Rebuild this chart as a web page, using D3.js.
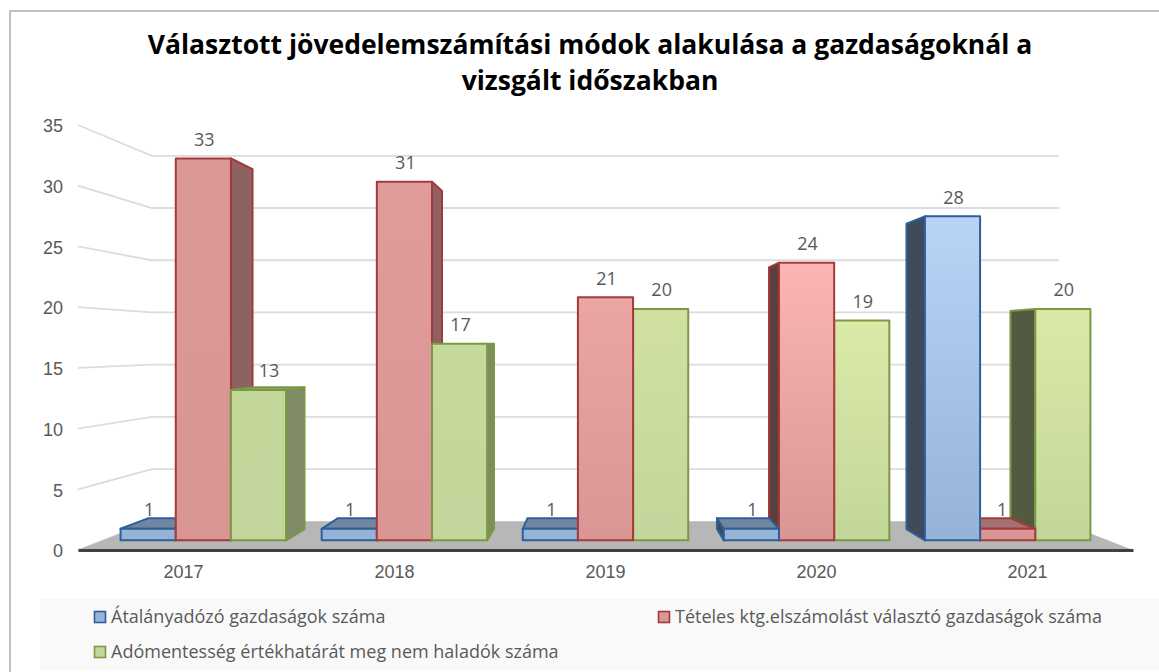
<!DOCTYPE html>
<html>
<head>
<meta charset="UTF-8">
<title>Választott jövedelemszámítási módok</title>
<script src="https://cdnjs.cloudflare.com/ajax/libs/d3/7.8.5/d3.min.js"></script>
<style>
html, body { margin: 0; padding: 0; background: #fff; }
svg { display: block; font-family: "Open Sans", "Noto Sans", sans-serif; }
.tick text { fill: #595959; font-size: 18px; }
.label { fill: #595959; font-size: 18px; text-anchor: middle; }
.legend-text { fill: #595959; font-size: 18px; }
.title { fill: #000; font-size: 26.5px; font-weight: 700; text-anchor: middle; }
.grid { stroke: #dcdcdc; stroke-width: 1.8; fill: none; }
</style>
</head>
<body>
<script>
// chart data
var years = ["2017", "2018", "2019", "2020", "2021"];
var atalanyValues = [1, 1, 1, 1, 28];
var tetelesValues = [33, 31, 21, 24, 1];
var adomentesValues = [13, 17, 20, 19, 20];
var seriesNames = [
  "Átalányadózó gazdaságok száma",
  "Tételes ktg.elszámolást választó gazdaságok száma",
  "Adómentesség értékhatárát meg nem haladók száma"
];
var yTicks = [0, 5, 10, 15, 20, 25, 30, 35];
var titleLines = [
  "Választott jövedelemszámítási módok alakulása a gazdaságoknál a",
  "vizsgált időszakban"
];

// look of the series
var baseColors = ["#95b3d7", "#d99694", "#c3d69b"];
var brightColors = ["#bcd9fc", "#fcb5b4", "#dceba9"];
var strokeColors = ["#2f5f98", "#a23b3a", "#7a9a41"];
var yearShine = [0.05, 0.2, 0.5, 1, 0.9];
// two labels were moved by hand in the original: series-year -> px
var labelShift = { "2-0": 9.5, "1-4": -6.5 };

var width = 1159, height = 672;

var svg = d3.select("body").append("svg")
    .attr("width", width)
    .attr("height", height);
var defs = svg.append("defs");

// scales are for the front plane of the floor, project() pushes things back
var x = d3.scaleBand().domain(years).range([78, 1133]).paddingInner(0.177).paddingOuter(0.0885);
var xAxisScale = d3.scaleBand().domain(years).range([78, 1133]);
var xGroup = d3.scaleBand().domain([0, 1, 2]).range([0, x.bandwidth()]);
var y = d3.scaleLinear().domain([0, 35]).range([550, 125]);

// vanishing point and depth factors
var vx = 605.5, vy = 345;
var backWall = 0.86, barFront = 0.953, barBack = 0.898;

function project(px, py, s) {
  return [vx + s * (px - vx), vy + s * (py - vy)];
}
function poly(points) {
  return points.map(function(p) { return p[0] + "," + p[1]; }).join(" ");
}

// frame
svg.append("path")
    .attr("d", "M10," + height + "V11H" + width)
    .attr("fill", "none")
    .attr("stroke", "#bfbfbf")
    .attr("stroke-width", 2);

// title
svg.selectAll(".title")
    .data(titleLines)
  .enter().append("text")
    .attr("class", "title")
    .attr("x", 590)
    .attr("y", function(d, i) { return 54 + i * 36; })
    .text(function(d) { return d; });

// gridlines: side wall + back wall
var grid = svg.append("g");
yTicks.forEach(function(t) {
  var a = [78, y(t)];
  var b = project(78, y(t), backWall);
  var c = project(1133, y(t), backWall);
  grid.append("polyline")
      .attr("class", "grid")
      .attr("points", poly(t === 0 ? [a, b] : [a, b, c]));
});

// floor
svg.append("polygon")
    .attr("fill", "#b7b7b7")
    .attr("points", poly([
      [78, y(0)],
      project(78, y(0), backWall),
      project(1133, y(0), backWall),
      [1133, y(0)]
    ]));

// flatten to one list of bars
var allValues = [atalanyValues, tetelesValues, adomentesValues];
var bars = [];
allValues.forEach(function(vals, si) {
  vals.forEach(function(v, yi) {
    var left = x(years[yi]) + xGroup(si);
    bars.push({
      series: si,
      year: yi,
      value: v,
      left: left,
      right: left + xGroup.bandwidth()
    });
  });
});

// outermost bars first, the ones near the vanishing point go on top
bars.sort(function(a, b) {
  return Math.abs((b.left + b.right) / 2 - vx) - Math.abs((a.left + a.right) / 2 - vx);
});

var barLayer = svg.append("g");
bars.forEach(function(d, i) {
  var g = barLayer.append("g")
      .attr("stroke", strokeColors[d.series])
      .attr("stroke-width", 2)
      .attr("stroke-linejoin", "round");
  var base = d3.rgb(baseColors[d.series]);
  var fl = project(d.left, y(0), barFront), fr = project(d.right, y(0), barFront);
  var tl = project(d.left, y(d.value), barFront), tr = project(d.right, y(d.value), barFront);
  var bl = project(d.left, y(0), barBack), br = project(d.right, y(0), barBack);
  var ul = project(d.left, y(d.value), barBack), ur = project(d.right, y(d.value), barBack);

  function shade(k) {
    return d3.rgb(base.r * k, base.g * k, base.b * k);
  }

  // side face, only the one turned to the viewer
  if (fr[0] < vx) {
    g.append("polygon").attr("points", poly([fr, tr, ur, br])).attr("fill", shade(0.65));
  } else if (fl[0] > vx) {
    g.append("polygon").attr("points", poly([fl, tl, ul, bl])).attr("fill", shade(0.42));
  }
  // top face shows only below eye level
  if (tl[1] > vy) {
    g.append("polygon").attr("points", poly([tl, tr, ur, ul])).attr("fill", shade(0.75));
  }

  var shine = yearShine[d.year] * Math.min(1, d.value / 20);
  var gradId = "grad" + i;
  var grad = defs.append("linearGradient")
      .attr("id", gradId)
      .attr("x1", 0).attr("y1", 0).attr("x2", 0).attr("y2", 1);
  grad.append("stop").attr("offset", 0)
      .attr("stop-color", d3.interpolateRgb(baseColors[d.series], brightColors[d.series])(shine));
  grad.append("stop").attr("offset", 1)
      .attr("stop-color", baseColors[d.series]);

  g.append("rect")
      .attr("x", tl[0])
      .attr("y", tl[1])
      .attr("width", tr[0] - tl[0])
      .attr("height", fl[1] - tl[1])
      .attr("fill", "url(#" + gradId + ")");
});

// value labels
svg.append("g").selectAll("text")
    .data(bars)
  .enter().append("text")
    .attr("class", "label")
    .attr("x", function(d) {
      var shift = labelShift[d.series + "-" + d.year] || 0;
      return project((d.left + d.right) / 2, 0, barFront)[0] + shift + 1;
    })
    .attr("y", function(d) { return project(0, y(d.value), barFront)[1] - 12.5; })
    .text(function(d) { return d.value; });

// axes
var yAxis = d3.axisLeft(y).tickValues(yTicks).tickSize(0).tickPadding(15);
svg.append("g")
    .attr("transform", "translate(78,1)")
    .call(yAxis)
    .call(function(g) { g.select(".domain").remove(); })
    .selectAll("text").style("font-family", "inherit");

var xAxis = d3.axisBottom(xAxisScale).tickSize(0).tickPadding(15);
svg.append("g")
    .attr("transform", "translate(0," + y(0) + ")")
    .call(xAxis)
    .call(function(g) {
      g.select(".domain").attr("stroke", "#404040").attr("stroke-width", 3);
    })
    .selectAll("text").style("font-family", "inherit");

// legend, its background runs off the right edge
svg.append("rect")
    .attr("x", 40).attr("y", 599)
    .attr("width", width - 40).attr("height", 71)
    .attr("fill", "#f9f9f9");

var legendPos = [[94, 617], [658, 617], [94, 652]];
var legend = svg.append("g").selectAll("g")
    .data(seriesNames)
  .enter().append("g")
    .attr("transform", function(d, i) {
      return "translate(" + legendPos[i][0] + "," + legendPos[i][1] + ")";
    });
legend.append("rect")
    .attr("x", 0.5).attr("y", -5.5)
    .attr("width", 11).attr("height", 11)
    .attr("fill", function(d, i) { return baseColors[i]; })
    .attr("stroke", function(d, i) { return strokeColors[i]; })
    .attr("stroke-width", 1.6);
legend.append("text")
    .attr("class", "legend-text")
    .attr("x", 17)
    .attr("y", 6)
    .text(function(d) { return d; });
</script>
</body>
</html>
